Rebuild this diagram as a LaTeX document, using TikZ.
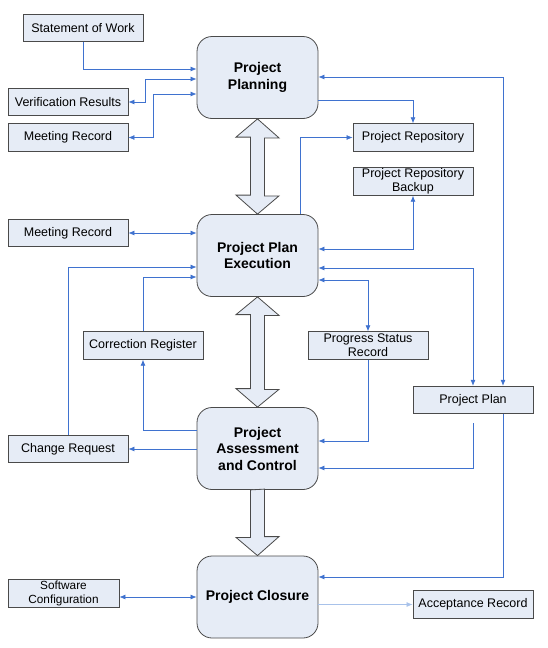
\documentclass[tikz,border=0pt]{standalone}
\usepackage{fontspec}
\setmainfont{Liberation Sans}
\usetikzlibrary{arrows.meta, positioning, calc}
\definecolor{boxfill}{HTML}{E6ECF6}
\definecolor{boxline}{HTML}{4A4A4A}
\definecolor{linkblue}{HTML}{3F72CF}
\definecolor{linklight}{HTML}{A8C2EA}

\begin{document}
\begin{tikzpicture}[x=1pt, y=-1pt,
	phase/.style={draw=boxline, fill=boxfill, rounded corners=15pt, minimum width=121pt, minimum height=82pt, align=center, font=\fontsize{14}{16.5}\selectfont\bfseries, line width=0.8pt},
	item/.style={draw=boxline, fill=boxfill, minimum width=120pt, minimum height=27.5pt, inner sep=1pt, align=center, font=\fontsize{12.5}{14}\selectfont, line width=0.8pt},
	link/.style={draw=linkblue, line width=0.75pt, -{Latex[length=6pt,width=5pt]}},
	dlink/.style={link, {Latex[length=6pt,width=5pt]}-{Latex[length=6pt,width=5pt]}},
	bigarrow/.style={draw=boxline, fill=boxfill, line width=0.8pt, line join=miter}]
	\useasboundingbox (0,0) rectangle (548,648);
	
	% phases
	\node[phase] (plan) at (257.5,77.5) {Project\\Planning};
	\node[phase] (exec) at (257.5,255.5) {Project Plan\\Execution};
	\node[phase] (assess) at (257.5,448.5) {Project\\Assessment\\and Control};
	\node[phase] (close) at (257.5,597) {Project Closure};
	
	% documents
	\node[item] (sow) at (83,28) {Statement of Work};
	\node[item] (verif) at (68,102) {Verification Results};
	\node[item] (meet1) at (68,137.5) {Meeting Record};
	\node[item] (repo) at (413,137.5) {Project Repository};
	\node[item] (backup) at (413,181.5) {Project Repository\\Backup};
	\node[item] (meet2) at (68,233) {Meeting Record};
	\node[item] (corr) at (143,345.5) {Correction Register};
	\node[item] (prog) at (368,345.5) {Progress Status\\Record};
	\node[item] (pplan) at (473,400) {Project Plan};
	\node[item] (change) at (68,449) {Change Request};
	\node[item, minimum width=111pt, font=\fontsize{11.8}{14}\selectfont] (soft) at (63.5,593.5) {Software\\Configuration};
	\node[item] (accept) at (473,604.5) {Acceptance Record};
	
	% big arrows between phases
	\draw[bigarrow] (plan.south) -- ++(21.5,19) -- ++(-14.5,0) -- ++(0,58) -- ++(14.5,0) -- (exec.north)
		-- ++(-21.5,-19) -- ++(14.5,0) -- ++(0,-58) -- ++(-14.5,0) -- cycle;
	\draw[bigarrow] (exec.south) -- ++(21.5,18.5) -- ++(-14.5,0) -- ++(0,74) -- ++(14.5,0) -- (assess.north)
		-- ++(-21.5,-18.5) -- ++(14.5,0) -- ++(0,-74) -- ++(-14.5,0) -- cycle;
	\draw[bigarrow] ([xshift=-7pt]assess.south) -- ++(0,47.5) -- ++(-14.5,0) -- (close.north)
		-- ++(21.5,-19) -- ++(-14.5,0) -- ++(0,-47.5) -- cycle;
	
	% planning
	\draw[link] (sow.south) |- (plan.west |- 0,69);
	\draw[dlink] (verif.east) -- ++(17,0) |- (plan.west |- 0,79);
	\draw[dlink] (meet1.east) -- ++(25,0) |- (plan.west |- 0,94);
	\draw[link] (plan.east |- 0,100) -| (repo.north);
	\draw[dlink] (plan.east |- 0,77) -| (pplan.north -| 503,0);
	
	% execution
	\draw[link] (exec.north -| 300,0) |- (repo.west);
	\draw[dlink] (backup.south) |- (exec.east |- 0,249);
	\draw[dlink] (exec.east |- 0,268) -| (pplan.north);
	\draw[dlink] (exec.east |- 0,280) -| (prog.north);
	\draw[dlink] (meet2.east) -- (exec.west |- meet2.east);
	\draw[link] (change.north) |- (exec.west |- 0,267);
	\draw[link] (corr.north) |- (exec.west |- 0,277);
	
	% assessment
	\draw[link] (prog.south) |- (assess.east |- 0,441);
	\draw[link] ([yshift=-9pt]pplan.south) |- (assess.east |- 0,468);
	\draw[link] (assess.west |- 0,430) -| (corr.south);
	\draw[link] (assess.west |- change.east) -- (change.east);
	
	% closure
	\draw[link] (pplan.south -| 503,0) |- (close.east |- 0,577);
	\draw[dlink] (soft.east |- 0,597) -- (close.west |- 0,597);
	\draw[link, draw=linklight] (close.east |- accept.west) -- (accept.west);
\end{tikzpicture}
\end{document}
